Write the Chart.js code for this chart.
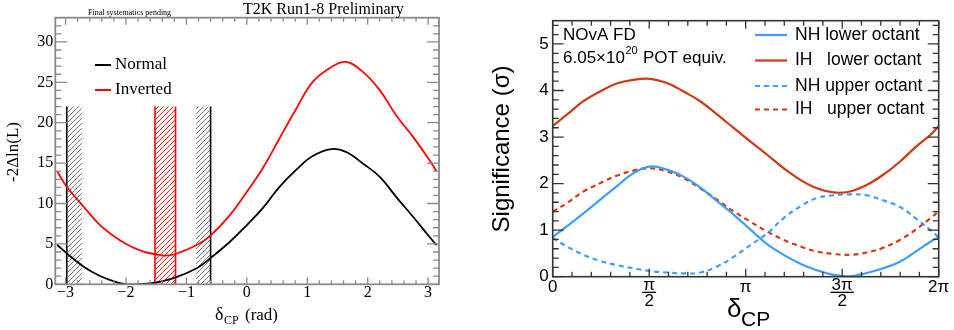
<!DOCTYPE html>
<html>
<head>
<meta charset="utf-8">
<script src="https://cdn.jsdelivr.net/npm/chart.js@4.4.1/dist/chart.umd.min.js"></script>
<style>
  body { margin: 0; background: #fff; }
  #wrap { position: relative; width: 954px; height: 330px; }
  canvas { position: absolute; top: 0; }
  #t2k { left: 0; }
  #nova { left: 477px; }
</style>
</head>
<body>
<div id="wrap">
  <canvas id="t2k" width="477" height="330"></canvas>
  <canvas id="nova" width="477" height="330"></canvas>
</div>
<script>
// T2K panel (left)
const t2kDelta    = [-3.14, -2.98, -2.70, -2.43, -2.15, -1.99, -1.85, -1.71, -1.52, -1.36, -1.19, -0.83, -0.61, -0.28, 0.00, 0.26, 0.54, 0.82, 1.09, 1.40, 1.64, 1.92, 2.20, 2.47, 2.75, 3.02, 3.14];
const t2kNormal   = [4.90, 3.83, 2.18, 1.03, 0.25, 0.03, 0.00, 0.04, 0.20, 0.45, 0.82, 1.98, 3.20, 5.27, 7.33, 9.40, 12.07, 14.20, 15.87, 16.73, 16.40, 14.96, 13.30, 10.83, 8.36, 5.89, 4.86];
const t2kInverted = [14.00, 12.07, 9.60, 7.33, 5.69, 4.95, 4.45, 4.05, 3.72, 3.56, 3.72, 4.86, 5.97, 8.57, 11.45, 14.34, 18.05, 21.76, 25.05, 26.90, 27.53, 26.30, 24.03, 20.93, 18.25, 15.40, 14.00];
const t2kNormalBands  = [[-2.98, -2.73], [-0.84, -0.60]];
const t2kNormalEdges  = [-2.98, -0.60];
const t2kInvertedBand = [-1.52, -1.18];
const t2kBandTop = 22;
const t2kXTicks = [-3, -2, -1, 0, 1, 2, 3];
const t2kYTicks = [0, 5, 10, 15, 20, 25, 30];

// NOvA panel (right), delta in radians
const novaDelta   = [0, 0.23, 0.50, 0.77, 1.04, 1.31, 1.59, 1.86, 2.13, 2.40, 2.68, 2.95, 3.22, 3.49, 3.76, 4.03, 4.30, 4.57, 4.84, 5.11, 5.38, 5.65, 5.92, 6.15, 6.28];
const novaNHLower = [0.85, 1.08, 1.36, 1.65, 1.94, 2.22, 2.37, 2.30, 2.15, 1.92, 1.62, 1.33, 1.01, 0.70, 0.47, 0.28, 0.14, 0.04, 0.01, 0.08, 0.18, 0.32, 0.55, 0.75, 0.85];
const novaIHLower = [3.24, 3.48, 3.77, 3.98, 4.15, 4.23, 4.25, 4.16, 3.98, 3.77, 3.48, 3.19, 2.90, 2.62, 2.33, 2.08, 1.90, 1.81, 1.83, 1.97, 2.19, 2.47, 2.80, 3.05, 3.23];
const novaNHUpper = [0.83, 0.65, 0.47, 0.34, 0.25, 0.18, 0.12, 0.09, 0.07, 0.09, 0.22, 0.43, 0.68, 0.93, 1.26, 1.51, 1.69, 1.75, 1.77, 1.75, 1.64, 1.50, 1.24, 1.00, 0.85];
const novaIHUpper = [1.40, 1.58, 1.83, 2.01, 2.17, 2.28, 2.33, 2.26, 2.12, 1.90, 1.65, 1.40, 1.18, 0.97, 0.79, 0.65, 0.54, 0.49, 0.47, 0.52, 0.62, 0.79, 1.02, 1.26, 1.40];
const novaXTicks  = [0, Math.PI / 2, Math.PI, 3 * Math.PI / 2, 2 * Math.PI];
const novaXLabels = [['0'], ['π', '2'], ['π'], ['3π', '2'], ['2π']];
const novaYTicks  = [0, 1, 2, 3, 4, 5];

const SERIF = '"Liberation Serif", "Times New Roman", serif';
const SANS = '"Liberation Sans", Arial, sans-serif';

const pts = (xs, ys) => xs.map((x, i) => ({ x, y: ys[i] }));
const steps = (from, to, step) => {
  const r = [];
  for (let v = from; v <= to + 1e-9; v += step) r.push(v);
  return r;
};

function hatch(color, size, width) {
  const c = document.createElement('canvas');
  c.width = size; c.height = size;
  const g = c.getContext('2d');
  g.strokeStyle = color;
  g.lineWidth = width;
  g.beginPath();
  g.moveTo(0, size); g.lineTo(size, 0);
  g.moveTo(-size / 2, size / 2); g.lineTo(size / 2, -size / 2);
  g.moveTo(size / 2, size * 1.5); g.lineTo(size * 1.5, size / 2);
  g.stroke();
  return g.createPattern(c, 'repeat');
}

// ROOT style frame with inward ticks on all four sides
const rootFrame = {
  id: 'rootFrame',
  afterDatasetsDraw(chart, args, o) {
    const { ctx, chartArea: a, scales: { x, y } } = chart;
    ctx.save();
    ctx.strokeStyle = o.color;
    ctx.lineWidth = o.tickWidth;
    ctx.beginPath();
    const xt = (vals, len) => vals.forEach(v => {
      const p = x.getPixelForValue(v);
      ctx.moveTo(p, a.bottom); ctx.lineTo(p, a.bottom - len);
      ctx.moveTo(p, a.top); ctx.lineTo(p, a.top + len);
    });
    const yt = (vals, len) => vals.forEach(v => {
      const p = y.getPixelForValue(v);
      ctx.moveTo(a.left, p); ctx.lineTo(a.left + len, p);
      ctx.moveTo(a.right, p); ctx.lineTo(a.right - len, p);
    });
    xt(o.xMinor, o.xMinorLen); xt(o.xMajor, o.xMajorLen);
    yt(o.yMinor, o.yMinorLen); yt(o.yMajor, o.yMajorLen);
    ctx.stroke();
    ctx.lineWidth = o.frameWidth;
    ctx.strokeRect(a.left, a.top, a.right - a.left, a.bottom - a.top);
    ctx.restore();
  }
};

// texts of the T2K panel
const t2kText = {
  id: 't2kText',
  afterDraw(chart) {
    const ctx = chart.ctx;
    const ds = chart.data.datasets;
    ctx.save();
    ctx.fillStyle = '#000';
    ctx.textBaseline = 'alphabetic';
    ctx.font = '16px ' + SERIF;
    ctx.fillText('T2K Run1-8 Preliminary', 243, 14);
    ctx.font = '8px ' + SERIF;
    ctx.fillText('Final systematics pending', 88, 15);

    // legend
    ctx.textBaseline = 'middle';
    ctx.font = '17px ' + SERIF;
    [[ds[0], 65], [ds[1], 90]].forEach(([d, yy]) => {
      ctx.strokeStyle = d.borderColor;
      ctx.lineWidth = 2;
      ctx.beginPath(); ctx.moveTo(95, yy); ctx.lineTo(111, yy); ctx.stroke();
      ctx.fillText(d.label, 115, yy);
    });

    // x title
    ctx.textBaseline = 'alphabetic';
    ctx.font = '18px ' + SERIF;
    ctx.fillText('δ', 215, 320);
    ctx.font = '12px ' + SERIF;
    ctx.fillText('CP', 224, 324);
    ctx.font = '17px ' + SERIF;
    ctx.fillText('(rad)', 245, 320);

    // y title
    ctx.translate(14, 152);
    ctx.rotate(-Math.PI / 2);
    ctx.textAlign = 'center';
    ctx.textBaseline = 'middle';
    ctx.font = '17px ' + SERIF;
    ctx.fillText('-2Δln(L)', 0, 0);
    ctx.restore();
  }
};

// texts of the NOvA panel
const novaText = {
  id: 'novaText',
  afterDraw(chart) {
    const ctx = chart.ctx;
    const ds = chart.data.datasets;
    const x = chart.scales.x;
    const a = chart.chartArea;
    ctx.save();
    ctx.fillStyle = '#000';
    ctx.textBaseline = 'alphabetic';
    ctx.font = '17px ' + SANS;
    ctx.fillText('NOvA FD', 86, 40);
    let px = 86;
    ctx.fillText('6.05×10', px, 63);
    px += ctx.measureText('6.05×10').width;
    ctx.font = '11px ' + SANS;
    ctx.fillText('20', px + 0.5, 54);
    px += ctx.measureText('20').width + 1;
    ctx.font = '17px ' + SANS;
    ctx.fillText(' POT equiv.', px, 63);

    // legend
    ctx.textBaseline = 'middle';
    const rows = [[0, 35, 'NH lower octant'], [1, 60.5, 'IH   lower octant'], [2, 86, 'NH upper octant'], [3, 109.5, 'IH   upper octant']];
    rows.forEach(([i, yy, txt]) => {
      const d = ds[i];
      ctx.strokeStyle = d.borderColor;
      ctx.lineWidth = 2.2;
      ctx.setLineDash(d.borderDash || []);
      ctx.beginPath(); ctx.moveTo(278, yy); ctx.lineTo(310, yy); ctx.stroke();
      ctx.setLineDash([]);
      ctx.font = '17.5px ' + SANS;
      ctx.fillText(txt, 318, yy);
    });

    // x tick labels (fractions of pi)
    ctx.textAlign = 'center';
    ctx.textBaseline = 'alphabetic';
    ctx.font = '17px ' + SANS;
    novaXTicks.forEach((v, i) => {
      const p = x.getPixelForValue(v);
      const lab = novaXLabels[i];
      if (lab.length === 1) {
        ctx.fillText(lab[0], p, a.bottom + 15);
      } else {
        ctx.fillText(lab[0], p, a.bottom + 13);
        const w = ctx.measureText(lab[0]).width;
        ctx.fillRect(p - w / 2 - 1, a.bottom + 15, w + 2, 1.3);
        ctx.fillText(lab[1], p, a.bottom + 29);
      }
    });

    // x title
    ctx.textAlign = 'left';
    ctx.font = '26px ' + SANS;
    ctx.fillText('δ', 250, 317);
    ctx.font = '21px ' + SANS;
    ctx.fillText('CP', 264, 326);

    // y title
    ctx.translate(25, 149);
    ctx.rotate(-Math.PI / 2);
    ctx.textAlign = 'center';
    ctx.textBaseline = 'middle';
    ctx.font = '24px ' + SANS;
    ctx.fillText('Significance (σ)', 0, 0);
    ctx.restore();
  }
};

const lineBase = { pointRadius: 0, fill: false, tension: 0.4 };
const blackHatch = hatch('#555', 5, 0.8);
const redHatch = hatch('#ff2020', 5, 1);

const t2kDatasets = [
  { ...lineBase, label: 'Normal', data: pts(t2kDelta, t2kNormal), borderColor: '#000', borderWidth: 1.8 },
  { ...lineBase, label: 'Inverted', data: pts(t2kDelta, t2kInverted), borderColor: '#ff0000', borderWidth: 1.8 }
];
t2kNormalBands.forEach(b => t2kDatasets.push({
  label: 'band', data: b.map(v => ({ x: v, y: t2kBandTop })), fill: 'origin',
  backgroundColor: blackHatch, borderWidth: 0, pointRadius: 0
}));
t2kDatasets.push({
  label: 'band', data: t2kInvertedBand.map(v => ({ x: v, y: t2kBandTop })), fill: 'origin',
  backgroundColor: redHatch, borderWidth: 0, pointRadius: 0
});
t2kNormalEdges.forEach(v => t2kDatasets.push({
  label: 'edge', data: [{ x: v, y: 0 }, { x: v, y: t2kBandTop }], borderColor: '#000', borderWidth: 1.6, pointRadius: 0
}));
t2kInvertedBand.forEach(v => t2kDatasets.push({
  label: 'edge', data: [{ x: v, y: 0 }, { x: v, y: t2kBandTop }], borderColor: '#ff0000', borderWidth: 1.6, pointRadius: 0
}));

const t2kChart = new Chart(document.getElementById('t2k').getContext('2d'), {
  type: 'line',
  data: { datasets: t2kDatasets },
  options: {
    responsive: false,
    animation: false,
    devicePixelRatio: 1,
    layout: { padding: { top: 17.7, right: 38, left: 0, bottom: 0 } },
    plugins: {
      legend: { display: false },
      tooltip: { enabled: false },
      rootFrame: {
        color: '#8a8a8a', tickWidth: 1.3, frameWidth: 1.8,
        xMajor: t2kXTicks, xMinor: steps(-3, 3, 0.2), xMajorLen: 7, xMinorLen: 4,
        yMajor: t2kYTicks, yMinor: steps(0, 33, 1), yMajorLen: 12, yMinorLen: 6
      }
    },
    scales: {
      x: {
        type: 'linear', min: -3.17, max: 3.18,
        afterBuildTicks: s => { s.ticks = t2kXTicks.map(v => ({ value: v })); },
        afterFit: s => { s.height = 45.7; },
        grid: { display: false, drawTicks: false },
        border: { display: false },
        ticks: {
          color: '#000', padding: 0, maxRotation: 0, autoSkip: false,
          font: { family: SERIF, size: 16, lineHeight: 1 },
          callback: v => (v < 0 ? '\u2212' + Math.abs(v) : String(v))
        }
      },
      y: {
        type: 'linear', min: 0, max: 33,
        afterBuildTicks: s => { s.ticks = t2kYTicks.map(v => ({ value: v })); },
        afterFit: s => { s.width = 55.3; },
        grid: { display: false, drawTicks: false },
        border: { display: false },
        ticks: { color: '#000', padding: 2, font: { family: SERIF, size: 16 } }
      }
    }
  },
  plugins: [rootFrame, t2kText]
});

const blue = '#3f9ef7';
const red = '#cf3a12';
const novaChart = new Chart(document.getElementById('nova').getContext('2d'), {
  type: 'line',
  data: {
    datasets: [
      { ...lineBase, label: 'NH lower octant', data: pts(novaDelta, novaNHLower), borderColor: blue, borderWidth: 2.2 },
      { ...lineBase, label: 'IH lower octant', data: pts(novaDelta, novaIHLower), borderColor: red, borderWidth: 2.2 },
      { ...lineBase, label: 'NH upper octant', data: pts(novaDelta, novaNHUpper), borderColor: blue, borderWidth: 2.2, borderDash: [5, 4] },
      { ...lineBase, label: 'IH upper octant', data: pts(novaDelta, novaIHUpper), borderColor: red, borderWidth: 2.2, borderDash: [5, 4] }
    ]
  },
  options: {
    responsive: false,
    animation: false,
    devicePixelRatio: 1,
    layout: { padding: { top: 20.7, right: 15.3, left: 0, bottom: 53.3 } },
    plugins: {
      legend: { display: false },
      tooltip: { enabled: false },
      rootFrame: {
        color: '#333', tickWidth: 1.3, frameWidth: 1.6,
        xMajor: novaXTicks, xMinor: steps(0, 2 * Math.PI, Math.PI / 10), xMajorLen: 8, xMinorLen: 5,
        yMajor: novaYTicks, yMinor: steps(0, 5.4, 0.2), yMajorLen: 11, yMinorLen: 6
      }
    },
    scales: {
      x: { type: 'linear', min: 0, max: 2 * Math.PI, display: false },
      y: {
        type: 'linear', min: 0, max: 5.5,
        afterBuildTicks: s => { s.ticks = novaYTicks.map(v => ({ value: v })); },
        afterFit: s => { s.width = 75.7; },
        grid: { display: false, drawTicks: false },
        border: { display: false },
        ticks: { color: '#000', padding: 4, font: { family: SANS, size: 17 } }
      }
    }
  },
  plugins: [rootFrame, novaText]
});
</script>
</body>
</html>
